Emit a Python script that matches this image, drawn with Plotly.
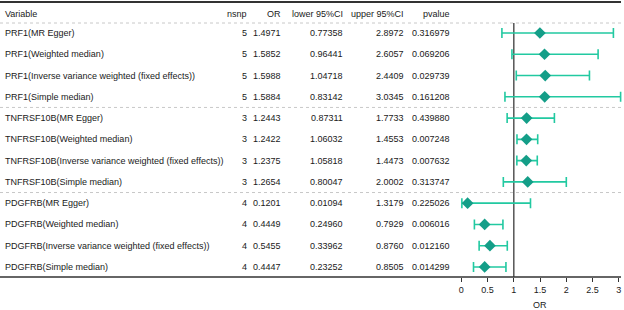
import plotly.graph_objects as go

variables = [
    "PRF1(MR Egger)", "PRF1(Weighted median)",
    "PRF1(Inverse variance weighted (fixed effects))", "PRF1(Simple median)",
    "TNFRSF10B(MR Egger)", "TNFRSF10B(Weighted median)",
    "TNFRSF10B(Inverse variance weighted (fixed effects))", "TNFRSF10B(Simple median)",
    "PDGFRB(MR Egger)", "PDGFRB(Weighted median)",
    "PDGFRB(Inverse variance weighted (fixed effects))", "PDGFRB(Simple median)",
]
nsnp = [5, 5, 5, 5, 3, 3, 3, 3, 4, 4, 4, 4]
or_vals = [1.4971, 1.5852, 1.5988, 1.5884, 1.2443, 1.2422, 1.2375, 1.2654,
           0.1201, 0.4449, 0.5455, 0.4447]
or_text = ["1.4971", "1.5852", "1.5988", "1.5884", "1.2443", "1.2422", "1.2375", "1.2654",
           "0.1201", "0.4449", "0.5455", "0.4447"]
lower = [0.77358, 0.96441, 1.04718, 0.83142, 0.87311, 1.06032, 1.05818, 0.80047,
         0.01094, 0.24960, 0.33962, 0.23252]
lower_text = ["0.77358", "0.96441", "1.04718", "0.83142", "0.87311", "1.06032", "1.05818",
              "0.80047", "0.01094", "0.24960", "0.33962", "0.23252"]
upper = [2.8972, 2.6057, 2.4409, 3.0345, 1.7733, 1.4553, 1.4473, 2.0002,
         1.3179, 0.7929, 0.8760, 0.8505]
upper_text = ["2.8972", "2.6057", "2.4409", "3.0345", "1.7733", "1.4553", "1.4473", "2.0002",
              "1.3179", "0.7929", "0.8760", "0.8505"]
pvalue = ["0.316979", "0.069206", "0.029739", "0.161208", "0.439880", "0.007248",
          "0.007632", "0.313747", "0.225026", "0.006016", "0.012160", "0.014299"]
headers = ["Variable", "nsnp", "OR", "lower 95%CI", "upper 95%CI", "pvalue"]
tick_vals = [0, 0.5, 1, 1.5, 2, 2.5, 3]
tick_text = ["0", "0.5", "1", "1.5", "2", "2.5", "3"]

W, H = 624, 310
rows = list(range(len(variables)))
FONT = "Liberation Sans, Arial, sans-serif"
TXT = "#1a1a1a"
FS = 9

col_x = [3, 249, 283, 345, 406, 452]
col_anchor = ["left", "right", "right", "right", "right", "right"]

fig = go.Figure()

err_plus = [u - o for u, o in zip(upper, or_vals)]
err_minus = [o - l for o, l in zip(or_vals, lower)]
fig.add_trace(go.Scatter(
    x=or_vals, y=rows, mode="markers",
    marker=dict(symbol="diamond", size=9, color="#149e88"),
    error_x=dict(type="data", symmetric=False, array=err_plus, arrayminus=err_minus,
                 color="#22c9a1", thickness=1.6, width=5),
    showlegend=False, hoverinfo="skip", cliponaxis=False,
))

annotations = []
header_y = -0.893
for j, h in enumerate(headers):
    annotations.append(dict(x=col_x[j] / W, xref="paper", y=header_y, yref="y", text=h,
                            showarrow=False, xanchor=col_anchor[j], yanchor="middle",
                            font=dict(family=FONT, size=FS, color=TXT)))
cols = [variables, [str(n) for n in nsnp], or_text, lower_text, upper_text, pvalue]
for j, col in enumerate(cols):
    for i, t in enumerate(col):
        annotations.append(dict(x=col_x[j] / W, xref="paper", y=rows[i], yref="y", text=t,
                                showarrow=False, xanchor=col_anchor[j], yanchor="middle",
                                font=dict(family=FONT, size=FS, color=TXT)))
annotations.append(dict(x=1.5, xref="x", y=(H - 305) / H, yref="paper", text="OR",
                        showarrow=False, xanchor="center", yanchor="middle",
                        font=dict(family=FONT, size=FS, color=TXT)))

shapes = []
shapes.append(dict(type="line", xref="paper", yref="paper", x0=0, x1=621 / W,
                   y0=1 - 2 / H, y1=1 - 2 / H, line=dict(color="#333333", width=2)))
shapes.append(dict(type="line", xref="paper", yref="paper", x0=0, x1=621 / W,
                   y0=33 / H, y1=33 / H, line=dict(color="#333333", width=1.5)))
for yv in [-0.47, 3.5, 7.5]:
    shapes.append(dict(type="line", xref="paper", yref="y", x0=0, x1=621 / W,
                       y0=yv, y1=yv, line=dict(color="#c8c8c8", width=1, dash="dot")))
shapes.append(dict(type="line", xref="x", yref="paper", x0=1, x1=1,
                   y0=33 / H, y1=1 - 23 / H, line=dict(color="#555555", width=1.5),
                   layer="below"))

x0px, scale = 461.3, 52.5
fig.update_layout(
    width=W, height=H, margin=dict(l=0, r=0, t=0, b=0),
    paper_bgcolor="white", plot_bgcolor="white",
    xaxis=dict(domain=[0, 1], range=[(0 - x0px) / scale, (W - x0px) / scale],
               tickvals=tick_vals, ticktext=tick_text, ticks="outside", ticklen=4,
               tickwidth=1.2, tickcolor="#333333", showgrid=False, zeroline=False,
               showline=False, tickfont=dict(family=FONT, size=FS, color=TXT)),
    yaxis=dict(domain=[33 / H, 1], range=[(277 - 33) / 21.27, (0 - 33) / 21.27],
               visible=False, showgrid=False, zeroline=False),
    annotations=annotations, shapes=shapes,
)

fig.write_html("out.html", config={"displayModeBar": False},
               post_script="document.body.style.margin='0';document.body.style.padding='0';")
